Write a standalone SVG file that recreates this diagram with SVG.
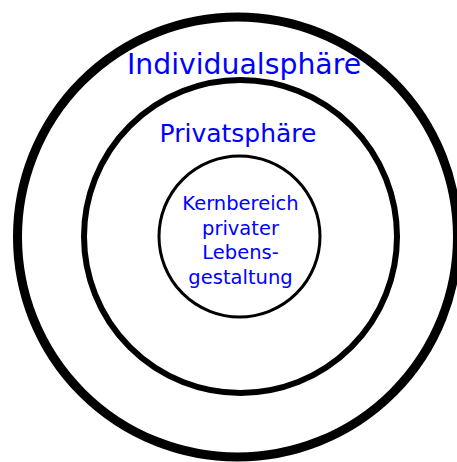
<svg xmlns="http://www.w3.org/2000/svg" width="457" height="462" viewBox="0 0 457 462">
<style>
.ring{fill:none;stroke:#000}
.lbl{font-family:"DejaVu Sans",sans-serif;fill:#0000ff;text-anchor:middle}
</style>
<rect width="457" height="462" fill="#fff"/>
<g id="individualsphaere">
<circle class="ring" cx="237.5" cy="237" r="220" stroke-width="9"/>
<text class="lbl" x="244" y="73.5" font-size="28.3">Individualsphäre</text>
</g>
<g id="privatsphaere">
<circle class="ring" cx="240.5" cy="236.5" r="156.5" stroke-width="6"/>
<text class="lbl" x="238" y="141.5" font-size="25">Privatsphäre</text>
</g>
<g id="kernbereich">
<circle class="ring" cx="239.5" cy="236.5" r="80.5" stroke-width="3"/>
<text class="lbl" font-size="19.5"><tspan x="240.5" y="209.8">Kernbereich</tspan><tspan x="240.5" y="234.6">privater</tspan><tspan x="240.5" y="259.4">Lebens-</tspan><tspan x="240.5" y="284.2">gestaltung</tspan></text>
</g>
<g id="connectors"/>
</svg>
